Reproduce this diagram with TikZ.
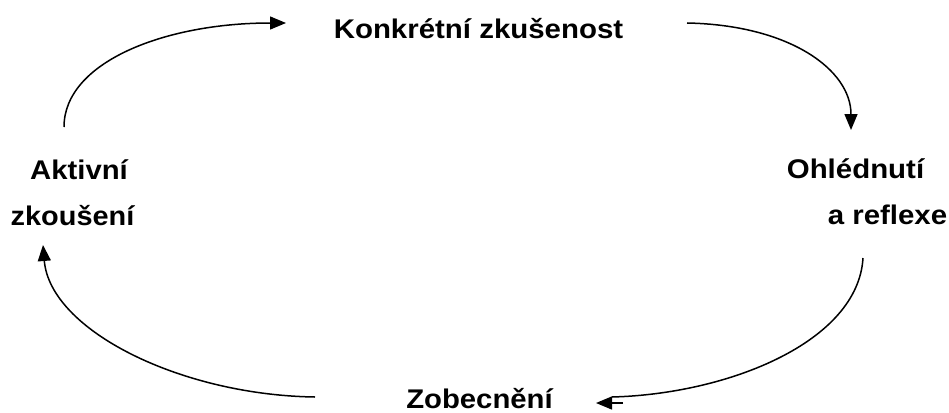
\documentclass[tikz,border=0pt]{standalone}
\usepackage{fontspec}
\setmainfont{Liberation Sans}
\usetikzlibrary{arrows.meta}
\tikzset{
  lbl/.style={anchor=base, inner sep=0pt, text depth=0pt, font=\fontsize{27}{32}\selectfont\bfseries},
  cyc/.style={line width=1.5pt, -{Triangle[length=16pt,width=13pt]}},
  cycplain/.style={line width=1.5pt}
}
\begin{document}
\begin{tikzpicture}[x=1pt,y=-1pt]
\useasboundingbox (0,0) rectangle (949,412);
% labels
\node[lbl] (konk) at (478.5,38.5) {\scalebox{1.09}[1]{Konkrétní zkušenost}};
\node[lbl] (akt) at (79,179) {\scalebox{1.085}[1]{Aktivní}};
\node[lbl] (zk) at (72.5,225) {\scalebox{1.07}[1]{zkoušení}};
\node[lbl] (ohl) at (855.5,178) {\scalebox{1.09}[1]{Ohlédnutí}};
\node[lbl] (refl) at (887.5,224) {\scalebox{1.09}[1]{a reflexe}};
\node[lbl] (zob) at (479.5,408) {\scalebox{1.085}[1]{Zobecnění}};
% connector ends
\coordinate (a1s) at (64,127);
\coordinate (a1e) at (286,23);
\coordinate (a2s) at (687,23);
\coordinate (a2e) at (851,130);
\coordinate (a3s) at (863,258);
\coordinate (a3e) at (612,397);
\coordinate (a3b) at (623,403);
\coordinate (a3t) at (596,403);
\coordinate (a4s) at (315,397);
\coordinate (a4e) at (43,245);
% connectors
\draw[cyc] (a1s) .. controls (64,62) and (165,23) .. (a1e);
\draw[cyc] (a2s) .. controls (790,25) and (851,70) .. (a2e);
\draw[cycplain] (a3s) .. controls (858,342) and (728,394) .. (a3e);
\draw[cyc] (a3b) -- (a3t);
\draw[cyc] (a4s) .. controls (180,395) and (50,330) .. (a4e);
\end{tikzpicture}
\end{document}
